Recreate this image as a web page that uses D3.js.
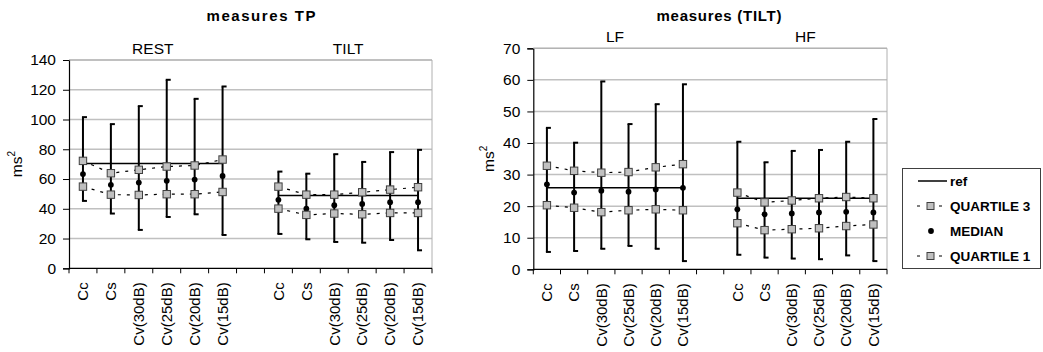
<!DOCTYPE html>
<html><head><meta charset="utf-8">
<script src="https://cdn.jsdelivr.net/npm/d3@7"></script>
<style>
body{margin:0;background:#fff;}
svg{display:block;font-family:"Liberation Sans",Arial,sans-serif;}
</style></head>
<body><svg id="c" width="1043" height="352"></svg>
<script>
const categories = ["Cc","Cs","Cv(30dB)","Cv(25dB)","Cv(20dB)","Cv(15dB)"];
const tpTicks = [0,20,40,60,80,100,120,140];
const tiltTicks = [0,10,20,30,40,50,60,70];

// measures TP - REST
const restMax = [101.6, 96.9, 109.0, 126.7, 113.9, 122.2];
const restQ3  = [72.2, 63.9, 66.2, 68.4, 69.1, 73.1];
const restMed = [63.3, 56.1, 57.6, 58.8, 59.6, 62.1];
const restQ1  = [54.9, 49.5, 49.3, 49.8, 49.8, 51.3];
const restMin = [45.3, 36.8, 25.8, 34.5, 36.3, 22.4];
const restRef = 70.5;
// measures TP - TILT
const tiltMax = [65.0, 63.6, 76.7, 71.5, 78.1, 79.6];
const tiltQ3  = [54.9, 49.5, 49.5, 51.1, 52.9, 54.5];
const tiltMed = [46.0, 40.1, 42.4, 43.3, 44.4, 44.4];
const tiltQ1  = [40.1, 35.9, 36.8, 36.3, 37.2, 37.2];
const tiltMin = [23.1, 19.5, 17.7, 17.2, 19.0, 12.1];
const tiltRef = 49.0;
// measures (TILT) - LF
const lfMax = [44.8, 40.1, 59.5, 46.0, 52.3, 58.6];
const lfQ3  = [32.8, 31.2, 30.6, 30.8, 32.3, 33.3];
const lfMed = [26.9, 24.3, 24.9, 24.6, 25.3, 25.8];
const lfQ1  = [20.3, 19.5, 18.1, 18.7, 19.0, 18.7];
const lfMin = [5.5, 5.8, 6.5, 7.4, 6.5, 2.6];
const lfRef = 25.8;
// measures (TILT) - HF
const hfMax = [40.4, 33.9, 37.5, 37.8, 40.4, 47.6];
const hfQ3  = [24.3, 21.2, 21.8, 22.5, 22.9, 22.5];
const hfMed = [19.0, 17.4, 17.7, 18.0, 18.2, 18.0];
const hfQ1  = [14.6, 12.4, 12.7, 13.0, 13.7, 14.2];
const hfMin = [4.6, 3.7, 3.4, 3.2, 4.4, 2.6];
const hfRef = 22.5;

const svg = d3.select("#c");

function group(name, max, q3, med, q1, min, ref){
  return {name, rows: categories.map((c,i)=>({key:name+"|"+c, cat:c, max:max[i], q3:q3[i], med:med[i], q1:q1[i], min:min[i]})), ref};
}

function panel(opt){
  const {x0,x1,yTop,yBot,ticks,title,titleX,titleLen,groups,yLabelX} = opt;
  const g = svg.append("g");
  const domain = [...groups[0].rows.map(r=>r.key), "gap", ...groups[1].rows.map(r=>r.key)];
  const x = d3.scaleBand().domain(domain).range([x0,x1]).padding(0);
  const y = d3.scaleLinear().domain([0, d3.max(ticks)]).range([yBot,yTop]);

  // gridlines
  g.selectAll(".grid").data(ticks.filter(t=>t>0)).join("line")
    .attr("x1",x0).attr("x2",x1).attr("y1",d=>y(d)).attr("y2",d=>y(d))
    .attr("stroke","#c0c0c0").attr("stroke-width",1.5);
  // right border
  g.append("line").attr("x1",x1).attr("x2",x1).attr("y1",yTop).attr("y2",yBot)
    .attr("stroke","#b0b0b0").attr("stroke-width",1);

  // y axis
  const ya = g.append("g").attr("transform",`translate(${x0},0)`)
    .call(d3.axisLeft(y).tickValues(ticks).tickSize(6).tickPadding(7));
  ya.select(".domain").attr("stroke","#000").attr("stroke-width",1.2);
  ya.selectAll(".tick line").attr("stroke","#000");
  ya.selectAll("text").attr("font-size",15.5).attr("fill","#000").attr("font-family","Liberation Sans, Arial, sans-serif");

  // x axis line + boundary ticks
  g.append("line").attr("x1",x0).attr("x2",x1).attr("y1",yBot).attr("y2",yBot)
    .attr("stroke","#000").attr("stroke-width",1.2);
  const bounds = domain.map(d=>x(d)).concat([x1]);
  g.selectAll(".bt").data(bounds).join("line")
    .attr("x1",d=>d).attr("x2",d=>d).attr("y1",yBot).attr("y2",yBot+5)
    .attr("stroke","#000").attr("stroke-width",1);
  // category labels
  const xa = g.append("g").attr("transform",`translate(0,${yBot})`)
    .call(d3.axisBottom(x).tickSize(0).tickFormat(d=>d==="gap"?"":d.split("|")[1]));
  xa.select(".domain").remove();
  xa.selectAll("text").attr("font-size",15).attr("fill","#000")
    .attr("font-family","Liberation Sans, Arial, sans-serif")
    .attr("text-anchor","end").attr("dy","0.35em")
    .attr("transform","translate(0,14) rotate(-90)").attr("x",0).attr("y",0);

  // y label ms²
  const yl = g.append("text").attr("transform",`translate(${yLabelX},${(yTop+yBot)/2}) rotate(-90)`)
    .attr("text-anchor","middle").attr("font-size",15.5).attr("fill","#000");
  yl.append("tspan").text("ms");
  yl.append("tspan").attr("font-size",10).attr("dy",-7).text("2");

  // title
  g.append("text").attr("x",titleX).attr("y",21).attr("text-anchor","middle")
    .attr("font-size",15).attr("font-weight","bold").attr("fill","#000")
    .attr("textLength",titleLen).attr("lengthAdjust","spacing").text(title);

  const cx = k => x(k)+x.bandwidth()/2;
  groups.forEach(gr=>{
    const rows = gr.rows;
    const gc = (cx(rows[0].key)+cx(rows[rows.length-1].key))/2;
    g.append("text").attr("x",gc).attr("y",yTop-6).attr("text-anchor","middle")
      .attr("font-size",15.5).attr("fill","#000").text(gr.name);
    // whiskers
    g.selectAll(null).data(rows).join("line")
      .attr("x1",d=>cx(d.key)).attr("x2",d=>cx(d.key))
      .attr("y1",d=>y(d.min)).attr("y2",d=>y(d.max))
      .attr("stroke","#000").attr("stroke-width",2);
    ["max","min"].forEach(f=>{
      g.selectAll(null).data(rows).join("line")
        .attr("x1",d=>cx(d.key)-1).attr("x2",d=>cx(d.key)+4)
        .attr("y1",d=>y(d[f])).attr("y2",d=>y(d[f]))
        .attr("stroke","#000").attr("stroke-width",2);
    });
    // ref line
    g.append("line").attr("x1",cx(rows[0].key)).attr("x2",cx(rows[rows.length-1].key))
      .attr("y1",y(gr.ref)).attr("y2",y(gr.ref)).attr("stroke","#000").attr("stroke-width",1.5);
    // dashed quartile lines
    const line = f => d3.line().x(d=>cx(d.key)).y(d=>y(d[f]));
    ["q3","q1"].forEach(f=>{
      g.append("path").datum(rows).attr("d",line(f)).attr("fill","none")
        .attr("stroke","#000").attr("stroke-width",1.2).attr("stroke-dasharray","3,6");
    });
    // medians
    g.selectAll(null).data(rows).join("circle")
      .attr("cx",d=>cx(d.key)).attr("cy",d=>y(d.med)).attr("r",2.9).attr("fill","#000");
    // quartile squares
    ["q3","q1"].forEach(f=>{
      g.selectAll(null).data(rows).join("rect")
        .attr("x",d=>cx(d.key)-3.7).attr("y",d=>y(d[f])-3.7).attr("width",7.4).attr("height",7.4)
        .attr("fill","#c0c0c0").attr("stroke","#404040").attr("stroke-width",1);
    });
  });
  // top border line (gray)
  g.append("line").attr("x1",x0).attr("x2",x1).attr("y1",yTop).attr("y2",yTop)
    .attr("stroke","#b0b0b0").attr("stroke-width",1);
}

panel({x0:69,x1:432,yTop:60,yBot:268.3,ticks:tpTicks,title:"measures TP",titleX:261,titleLen:109,yLabelX:22,
  groups:[group("REST",restMax,restQ3,restMed,restQ1,restMin,restRef), group("TILT",tiltMax,tiltQ3,tiltMed,tiltQ1,tiltMin,tiltRef)]});
panel({x0:533.3,x1:887,yTop:48.3,yBot:269.3,ticks:tiltTicks,title:"measures (TILT)",titleX:719,titleLen:125,yLabelX:494,
  groups:[group("LF",lfMax,lfQ3,lfMed,lfQ1,lfMin,lfRef), group("HF",hfMax,hfQ3,hfMed,hfQ1,hfMin,hfRef)]});

// legend
const lg = svg.append("g");
lg.append("rect").attr("x",902.5).attr("y",168.5).attr("width",138).attr("height",100)
  .attr("fill","#fff").attr("stroke","#404040").attr("stroke-width",1);
const legendItems = ["ref","QUARTILE 3","MEDIAN","QUARTILE 1"];
const ly = d3.scalePoint().domain(legendItems).range([181,256]);
legendItems.forEach(k=>{
  const yy = ly(k);
  if(k==="ref"){
    lg.append("line").attr("x1",918).attr("x2",947).attr("y1",yy).attr("y2",yy).attr("stroke","#000").attr("stroke-width",1.5);
  } else if(k==="MEDIAN"){
    lg.append("circle").attr("cx",931).attr("cy",yy).attr("r",2.9).attr("fill","#000");
  } else {
    lg.append("line").attr("x1",917).attr("x2",945).attr("y1",yy).attr("y2",yy).attr("stroke","#000").attr("stroke-width",1.2).attr("stroke-dasharray","3,8");
    lg.append("rect").attr("x",927).attr("y",yy-3.5).attr("width",7).attr("height",7).attr("fill","#c0c0c0").attr("stroke","#404040");
  }
  lg.append("text").attr("x",950).attr("y",yy).attr("dy","0.35em").attr("font-size",13.5).attr("font-weight","bold").attr("fill","#000").text(k);
});
</script></body></html>
